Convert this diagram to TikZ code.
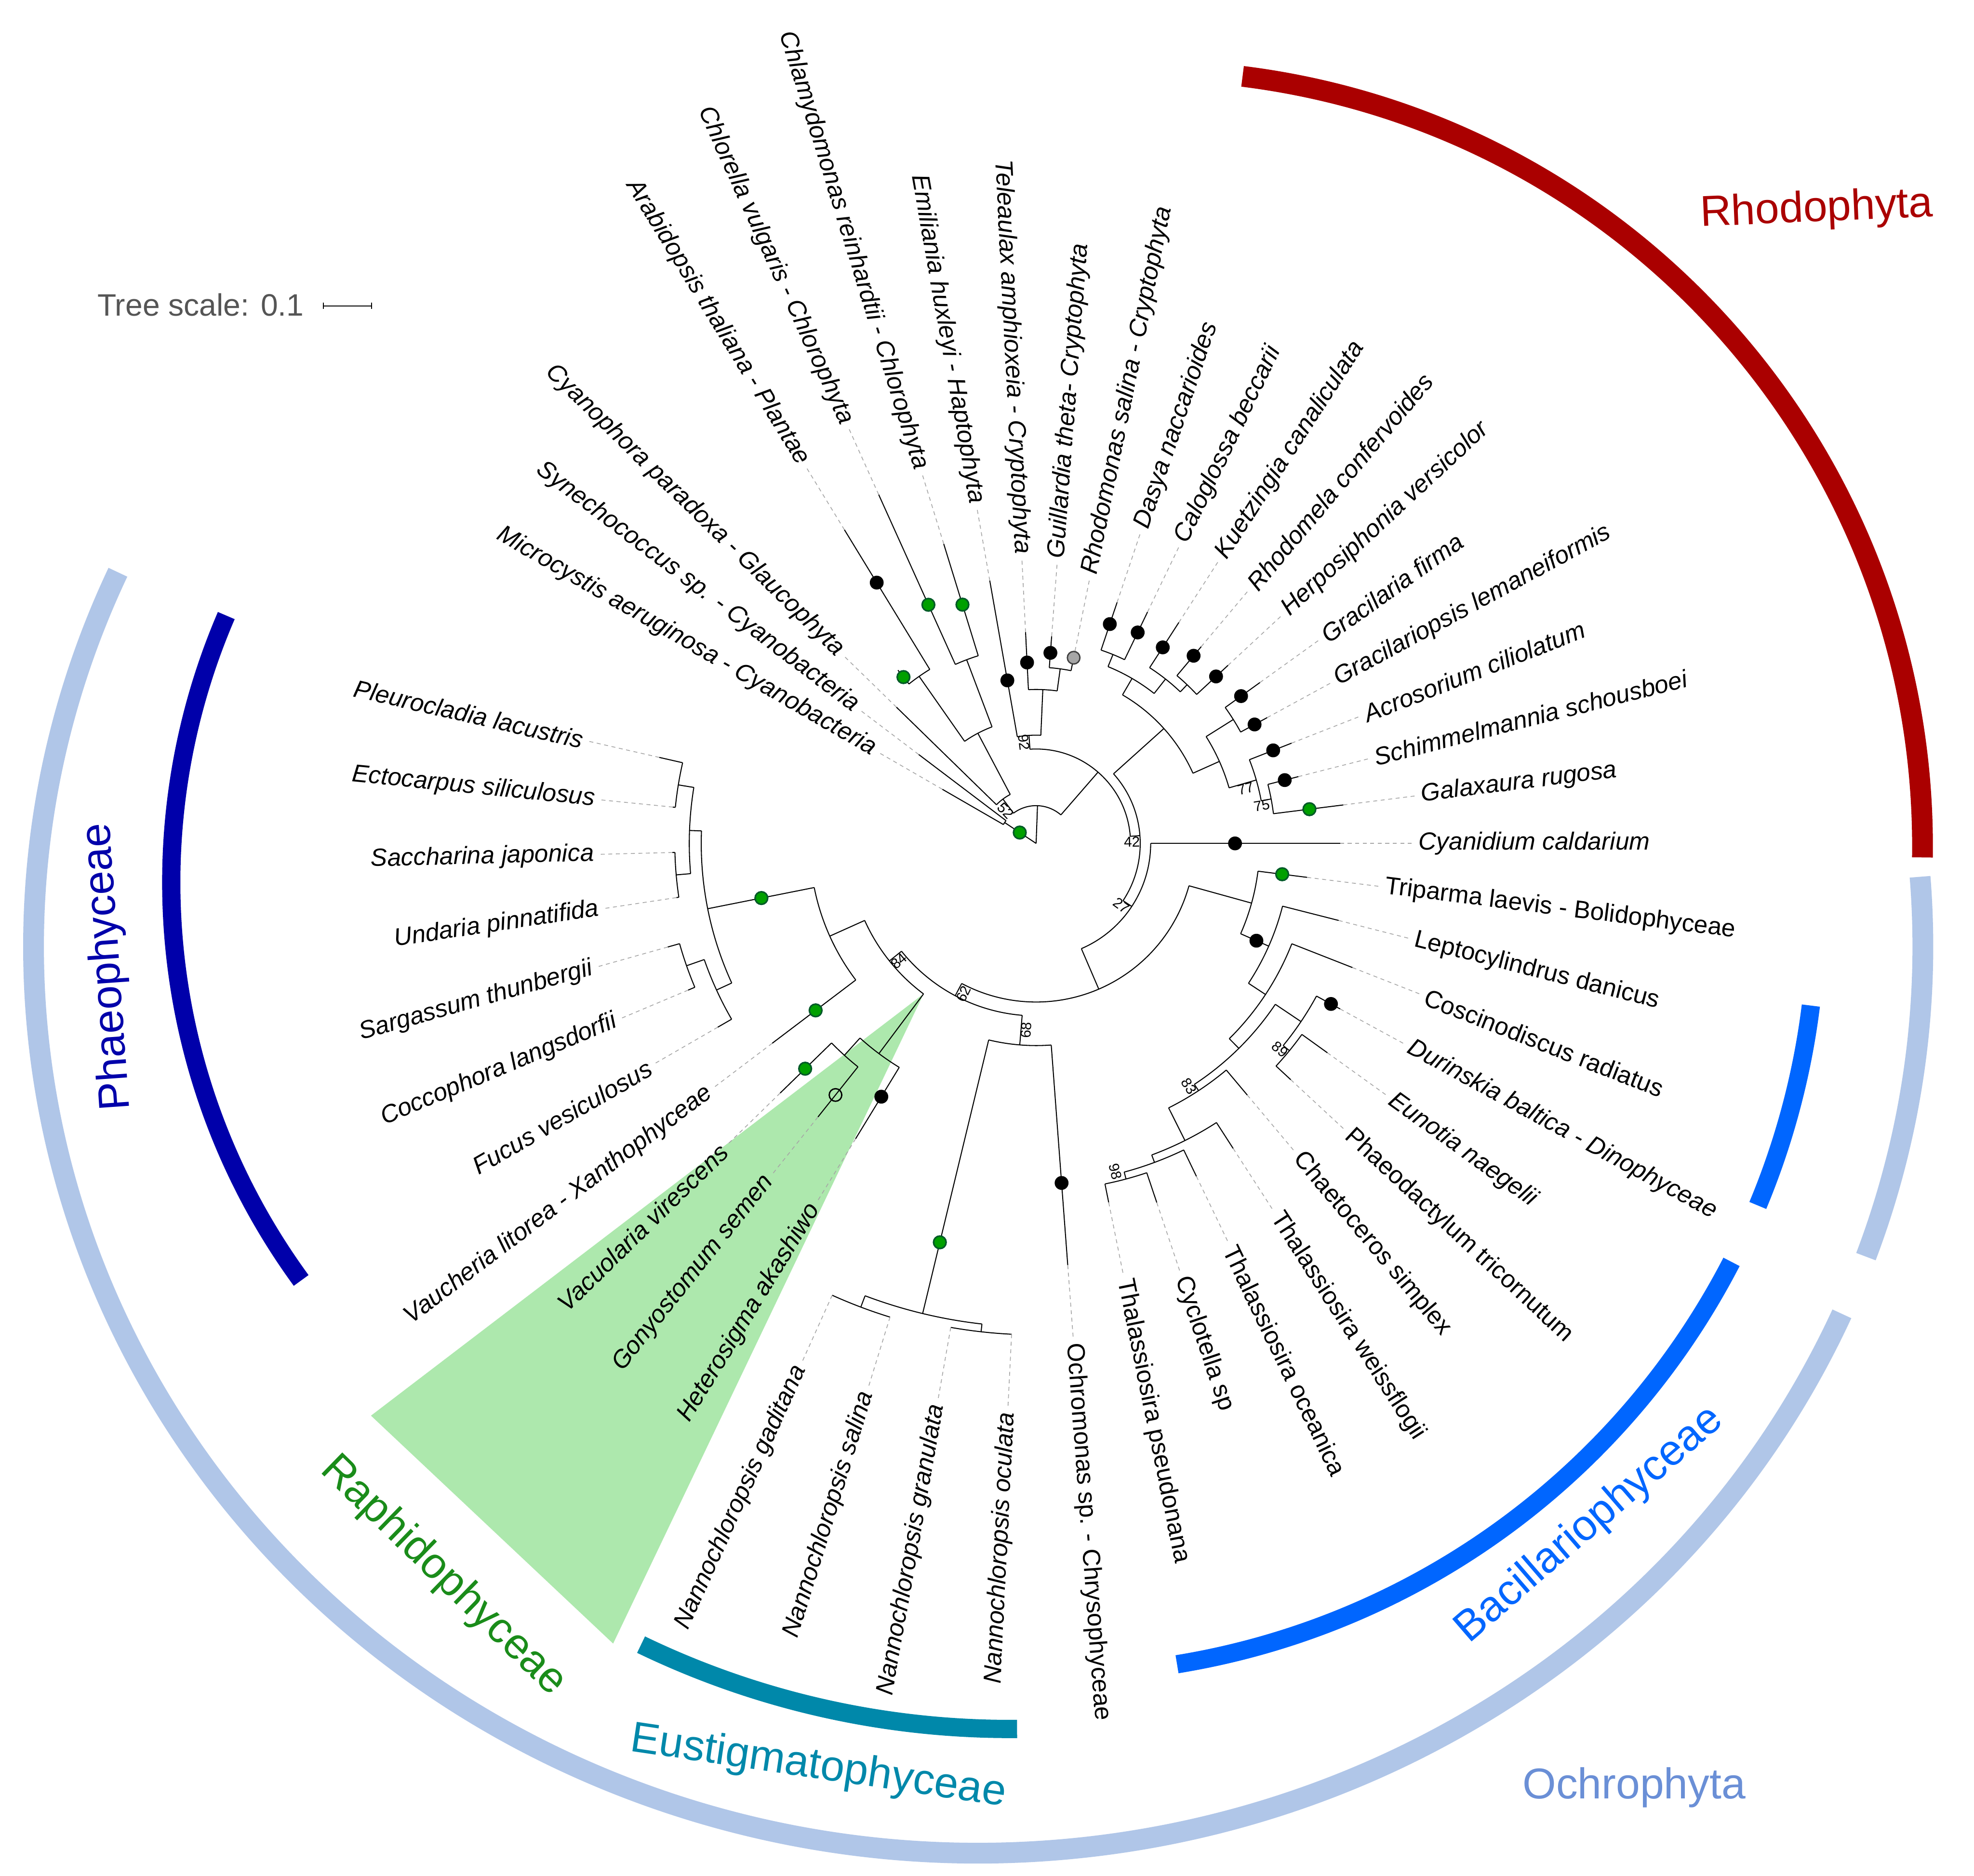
\documentclass[tikz,border=0pt]{standalone}
\usepackage{fontspec}
\setmainfont{Liberation Sans}
\usetikzlibrary{positioning}
\definecolor{rhodo}{HTML}{AA0000}
\definecolor{ochro}{HTML}{B0C6E8}
\definecolor{ochrotext}{HTML}{6A8FD6}
\definecolor{phaeo}{HTML}{0000AA}
\definecolor{bacil}{HTML}{0066FF}
\definecolor{eustig}{HTML}{0088AA}
\definecolor{raphi}{HTML}{ADE8AD}
\definecolor{raphitext}{HTML}{1A8C1A}
\definecolor{dotgreen}{HTML}{00A000}
\definecolor{dotedge}{HTML}{005A28}
\definecolor{scalegrey}{HTML}{555555}
\tikzset{
  branch/.style={line width=0.45pt},
  guide/.style={draw=black!35, line width=0.35pt, dash pattern=on 1.8pt off 1.6pt},
  taxon/.style={font=\fontsize{11.2}{13}\selectfont\itshape, inner sep=0pt},
  taxonup/.style={font=\fontsize{11.2}{13}\selectfont, inner sep=0pt},
  boot/.style={font=\fontsize{6.5}{7}\selectfont, inner sep=0pt},
  bdot/.style={circle, fill=black, inner sep=0pt, minimum size=0.22cm},
  gdot/.style={circle, fill=dotgreen, draw=dotedge, line width=0.7pt, inner sep=0pt, minimum size=0.2cm},
  sdot/.style={circle, fill=black!35, draw=black!75, line width=0.6pt, inner sep=0pt, minimum size=0.2cm},
  odot/.style={circle, draw=black, line width=0.6pt, inner sep=0pt, minimum size=0.2cm},
  band/.style={line width=0.33cm},
  thinband/.style={line width=0.29cm},
  group/.style={font=\fontsize{19.5}{22}\selectfont, inner sep=0pt},
}
\newcommand\clade[6]{%
  \coordinate (#1) at (#2:#3);
  \draw[branch] (#2:#4) -- (#1);
  \draw[branch] (#5:#3) arc[start angle=#5, end angle=#6, radius=#3];}
\newcommand\leafR[6]{%
  \coordinate (#1) at (#2:#4);
  \draw[branch] (#2:#3) -- (#1);
  \draw[guide] (#1) -- ({#2}:{#4+58});
  \node[#5, anchor=west, rotate={-(#2)}] (#1-l) at ({#2}:{#4+62}) {#6};}
\newcommand\leafL[6]{%
  \coordinate (#1) at (#2:#4);
  \draw[branch] (#2:#3) -- (#1);
  \draw[guide] (#1) -- ({#2}:{#4+58});
  \node[#5, anchor=east, rotate={180-(#2)}] (#1-l) at ({#2}:{#4+62}) {#6};}

\begin{document}
\begin{tikzpicture}[x=0.02cm, y=-0.02cm]
\useasboundingbox (0,0) rectangle (1568,1490);
\fill[white] (0,0) rectangle (1568,1490);

\begin{scope}[shift={(823,670)}]
\fill[raphi] (486.79:149.3) -- (499.29:697) -- (477.86:719) -- cycle;
\end{scope}

\draw[band, rhodo] (910.7,672.3) ++(-82.89:616.4) arc[start angle=-82.89, end angle=0.82, radius=616.4];
\draw[band, ochro] (777,752) ++(-4.42:750.4 and 720) arc[start angle=-4.42, end angle=20, x radius=750.4, y radius=720];
\draw[band, ochro] (777,752) ++(23.9:750.4 and 720) arc[start angle=23.9, end angle=204.4, x radius=750.4, y radius=720];
\draw[thinband, bacil] (837.4,724.4) ++(7.06:605.6) arc[start angle=7.06, end angle=22.65, radius=605.6];
\draw[thinband, bacil] (837.4,724.4) ++(27.33:605.6) arc[start angle=27.33, end angle=80.73, radius=605.6];
\draw[thinband, eustig] (802,700) ++(89.5:673.5) arc[start angle=89.5, end angle=115.77, radius=673.5];
\draw[thinband, phaeo] (672,701) ++(143.85:536) arc[start angle=143.85, end angle=203.3, radius=536];

\node[group, text=rhodo, rotate=2.5] (rhodo-t) at (1443,167) {Rhodophyta};
\node[group, text=ochrotext] (ochro-t) at (1298,1420) {Ochrophyta};
\node[group, text=bacil, rotate=40.8] (bacil-t) at (1262.7,1211.5) {Bacillariophyceae};
\node[group, text=eustig, rotate=-8.4] (eustig-t) at (650,1404) {Eustigmatophyceae};
\node[group, text=raphitext, rotate=-44.2] (raphi-t) at (352,1252) {Raphidophyceae};
\node[group, text=phaeo, rotate=94] (phaeo-t) at (86,768) {Phaeophyceae};

\node[anchor=west, text=scalegrey, font=\fontsize{14}{16}\selectfont, inner sep=0pt] (scale-t) at (77,242) {Tree scale: 0.1};
\coordinate (bar-a) at (257,243);
\coordinate (bar-b) at (295,243);
\draw[line width=0.4pt] (bar-a) -- (bar-b);
\draw[line width=0.4pt] ([yshift=-0.05cm]bar-a) -- ([yshift=0.05cm]bar-a);
\draw[line width=0.4pt] ([yshift=-0.05cm]bar-b) -- ([yshift=0.05cm]bar-b);

\begin{scope}[shift={(823,670)}]
\coordinate (root) at (0,0);
\clade{CB}{213.57}{30}{0}{210}{217.14}
\clade{P}{272.10}{30}{0}{233.21}{310.98}
\clade{n52}{233.21}{44}{30}{224.29}{242.14}
\clade{G}{242.14}{99}{44}{235}{249.29}
\clade{A}{235}{162}{99}{231.43}{238.57}
\clade{C2}{249.29}{156}{99}{245.71}{252.86}
\clade{N75}{310.98}{75}{30}{266.25}{355.70}
\clade{n92}{266.25}{86}{75}{260}{272.5}
\clade{Cr}{272.5}{122.3}{86}{267.14}{277.86}
\clade{GR}{277.86}{140}{122.3}{274.29}{281.43}
\clade{n42}{355.70}{82.7}{75}{318.04}{393.37}
\clade{RA}{318.04}{136.5}{82.7}{300.18}{335.89}
\clade{DK}{300.18}{151.6}{136.5}{292.14}{308.21}
\clade{DC}{292.14}{162}{151.6}{288.57}{295.71}
\clade{KR}{308.21}{166.2}{151.6}{302.86}{313.57}
\clade{RH}{313.57}{174}{166.2}{310}{317.14}
\clade{RB}{335.89}{159.5}{136.5}{327.86}{343.93}
\clade{GG}{327.86}{185}{159.5}{324.29}{331.43}
\clade{n77}{343.93}{182}{159.5}{338.57}{349.29}
\clade{n75}{349.29}{190}{182}{345.71}{352.86}
\clade{n27}{393.37}{91}{82.7}{360}{426.73}
\clade{Q}{426.73}{126}{91}{375.49}{477.97}
\clade{T}{375.49}{177.6}{126}{367.14}{383.83}
\clade{D}{383.83}{202}{177.6}{374.29}{393.37}
\clade{E}{393.37}{218.2}{202}{381.43}{405.31}
\clade{F}{405.31}{229}{218.2}{393.93}{416.70}
\clade{H}{393.93}{253.6}{229}{388.57}{399.29}
\clade{n89}{399.29}{260}{253.6}{395.71}{402.86}
\clade{n83}{416.70}{235}{229}{410}{423.39}
\clade{K}{423.39}{264}{235}{417.14}{429.64}
\clade{M}{429.64}{270.3}{264}{424.29}{435}
\clade{n98}{435}{276}{270.3}{431.43}{438.57}
\clade{n62}{477.97}{137}{126}{454.64}{501.30}
\clade{n68}{454.64}{160.6}{137}{445.71}{463.57}
\clade{NN}{463.57}{384.2}{160.6}{456.43}{470.71}
\clade{NOG}{456.43}{390.4}{384.2}{452.86}{460}
\clade{NSG}{470.71}{393.8}{384.2}{467.14}{474.29}
\clade{n84}{501.30}{149.3}{137}{486.79}{515.80}
\clade{R}{486.79}{208.5}{149.3}{481.43}{492.14}
\clade{S}{492.14}{227}{208.5}{488.57}{495.71}
\clade{U}{515.80}{179.7}{149.3}{502.86}{528.75}
\clade{W}{528.75}{266}{179.7}{515.36}{542.14}
\clade{Y}{515.36}{279.3}{266}{510}{520.71}
\clade{Z}{520.71}{294.2}{279.3}{517.14}{524.29}
\clade{V}{542.14}{275.5}{266}{535}{549.29}
\clade{US}{535}{287}{275.5}{531.43}{538.57}
\clade{EP}{549.29}{288}{275.5}{545.71}{552.86}

\leafL{mic}{210}{30}{86}{taxon}{Microcystis aeruginosa - Cyanobacteria}
\leafL{syn}{217.14}{30}{117}{taxon}{Synechococcus sp. - Cyanobacteria}
\leafL{cyp}{224.29}{44}{155}{taxon}{Cyanophora paradoxa - Glaucophyta}
\coordinate (x) at (231.43:176);
\draw[branch] (231.43:162) -- (x);
\leafL{ara}{238.57}{162}{292}{taxon}{Arabidopsis thaliana - Plantae}
\leafL{chl}{245.71}{156}{304}{taxon}{Chlorella vulgaris - Chlorophyta}
\leafL{cre}{252.86}{156}{249}{taxon}{Chlamydomonas reinhardtii - Chlorophyta}
\leafL{emi}{260}{86}{212}{taxon}{Emiliania huxleyi - Haptophyta}
\leafL{tel}{267.14}{122.3}{168}{taxon}{Teleaulax amphioxeia - Cryptophyta}
\leafR{gui}{274.29}{140}{165}{taxon}{Guillardia theta- Cryptophyta}
\leafR{rho}{281.43}{140}{156}{taxon}{Rhodomonas salina - Cryptophyta}
\leafR{das}{288.57}{162}{202}{taxon}{Dasya naccarioides}
\leafR{cal}{295.71}{162}{204}{taxon}{Caloglossa beccarii}
\leafR{kue}{302.86}{166.2}{209}{taxon}{Kuetzingia canaliculata}
\leafR{rhc}{310}{174}{204}{taxon}{Rhodomela confervoides}
\leafR{her}{317.14}{174}{208}{taxon}{Herposiphonia versicolor}
\leafR{gra}{324.29}{185}{219}{taxon}{Gracilaria firma}
\leafR{grl}{331.43}{185}{209}{taxon}{Gracilariopsis lemaneiformis}
\leafR{acr}{338.57}{182}{218}{taxon}{Acrosorium ciliolatum}
\leafR{sch}{345.71}{190}{215}{taxon}{Schimmelmannia schousboei}
\leafR{gal}{352.86}{190}{246}{taxon}{Galaxaura rugosa}
\leafR{cya}{360}{91}{241.5}{taxon}{Cyanidium caldarium}
\leafR{tri}{367.14}{177.6}{217}{taxonup}{Triparma laevis - Bolidophyceae}
\leafR{lep}{374.29}{202}{248}{taxonup}{Leptocylindrus danicus}
\leafR{cos}{381.43}{218.2}{270}{taxonup}{Coscinodiscus radiatus}
\leafR{dur}{388.57}{253.6}{275}{taxon}{Durinskia baltica - Dinophyceae}
\leafR{eun}{395.71}{260}{285}{taxon}{Eunotia naegelii}
\leafR{pha}{402.86}{260}{276}{taxonup}{Phaeodactylum tricornutum}
\leafR{cha}{410}{235}{261}{taxonup}{Chaetoceros simplex}
\leafR{twe}{417.14}{264}{288.5}{taxonup}{Thalassiosira weissflogii}
\leafR{toc}{424.29}{270.3}{293.5}{taxonup}{Thalassiosira oceanica}
\leafR{cyc}{431.43}{276}{301}{taxonup}{Cyclotella sp}
\leafR{tps}{438.57}{276}{291}{taxonup}{Thalassiosira pseudonana}
\leafR{och}{445.71}{160.6}{336}{taxonup}{Ochromonas sp. - Chrysophyceae}
\leafL{noc}{452.86}{390.4}{390.4}{taxon}{Nannochloropsis oculata}
\leafL{ngr}{460}{390.4}{390.4}{taxon}{Nannochloropsis granulata}
\leafL{nsa}{467.14}{393.8}{393.8}{taxon}{Nannochloropsis salina}
\leafL{nga}{474.29}{393.8}{393.8}{taxon}{Nannochloropsis gaditana}
\leafL{het}{481.43}{208.5}{275}{taxon}{Heterosigma akashiwo}
\leafL{gon}{488.57}{227}{278}{taxon}{Gonyostomum semen}
\leafL{vac}{495.71}{227}{284}{taxon}{Vacuolaria virescens}
\leafL{vau}{502.86}{179.7}{263}{taxon}{Vaucheria litorea - Xanthophyceae}
\leafL{fuc}{510}{279.3}{292}{taxon}{Fucus vesiculosus}
\leafL{coc}{517.14}{294.2}{300}{taxon}{Coccophora langsdorfii}
\leafL{sar}{524.29}{294.2}{304}{taxon}{Sargassum thunbergii}
\leafL{und}{531.43}{287}{289}{taxon}{Undaria pinnatifida}
\leafL{sac}{538.57}{287}{289}{taxon}{Saccharina japonica}
\leafL{ect}{545.71}{288}{290}{taxon}{Ectocarpus siliculosus}
\leafL{ple}{552.86}{288}{307}{taxon}{Pleurocladia lacustris}

\node[gdot] (root-d) at (213.57:15.6) {};
\node[gdot] (x-d) at (231.43:169) {};
\node[bdot] (ara-d) at (238.57:242.8) {};
\node[gdot] (chl-d) at (245.71:208) {};
\node[gdot] (cre-d) at (252.86:198.5) {};
\node[bdot] (emi-d) at (260:131.5) {};
\node[bdot] (tel-d) at (267.14:143.9) {};
\node[bdot] (gui-d) at (274.29:151.8) {};
\node[sdot] (rho-d) at (281.43:150.5) {};
\node[bdot] (das-d) at (288.57:183.8) {};
\node[bdot] (cal-d) at (295.71:186) {};
\node[bdot] (kue-d) at (302.86:185.4) {};
\node[bdot] (rhc-d) at (310:194.6) {};
\node[bdot] (her-d) at (317.14:195) {};
\node[bdot] (gra-d) at (324.29:200.5) {};
\node[bdot] (grl-d) at (331.43:197.6) {};
\node[bdot] (acr-d) at (338.57:202.3) {};
\node[bdot] (sch-d) at (345.71:203.8) {};
\node[gdot] (gal-d) at (352.86:218.8) {};
\node[bdot] (cya-d) at (360:158) {};
\node[gdot] (tri-d) at (367.14:197) {};
\node[bdot] (D-d) at (383.83:191.3) {};
\node[bdot] (dur-d) at (388.57:266.7) {};
\node[bdot] (och-d) at (445.71:270.5) {};
\node[gdot] (NN-d) at (463.57:326) {};
\node[bdot] (het-d) at (481.43:235.8) {};
\node[odot] (gon-d) at (488.57:255.6) {};
\node[gdot] (vac-d) at (495.71:256.3) {};
\node[gdot] (vau-d) at (502.86:219.7) {};
\node[gdot] (W-d) at (528.75:222.5) {};

\node[boot, rotate=-83.1] (b92) at (263.1:80.8) {92};
\node[boot, rotate=-46.9] (b52) at (226.9:35.4) {52};
\node[boot, rotate=64.3] (b62) at (115.7:132.7) {62};
\node[boot, rotate=87] (b68) at (93:148.6) {68};
\node[boot, rotate=40.6] (b84) at (139.4:143.6) {84};
\node[boot, rotate=-57.8] (b83) at (57.8:227.8) {83};
\node[boot, rotate=-40.2] (b89) at (40.2:253.5) {89};
\node[boot, rotate=-76.4] (b98) at (76.4:268.3) {98};
\node[boot, rotate=0.9] (b42) at (359.1:76.1) {42};
\node[boot, rotate=-36] (b27) at (36:83.6) {27};
\node[boot, rotate=14.7] (b77) at (345.3:172.2) {77};
\node[boot, rotate=9.5] (b75) at (350.5:181.7) {75};
\end{scope}
\end{tikzpicture}
\end{document}
